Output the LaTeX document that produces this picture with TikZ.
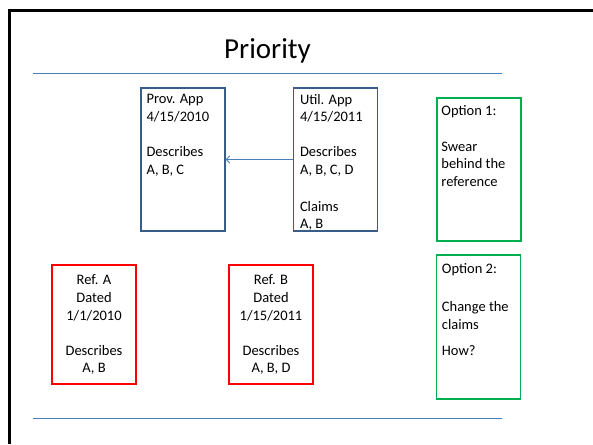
\documentclass[tikz,border=0pt]{standalone}
\usepackage{fontspec}
\setmainfont{Carlito}
\usetikzlibrary{arrows.meta}
\definecolor{appblue}{HTML}{385D8A}
\definecolor{ruleblue}{HTML}{4A7EBB}
\definecolor{optgreen}{HTML}{00B050}

\begin{document}
\begin{tikzpicture}[x=1pt, y=-1pt,
  frame/.style={black, line width=3pt},
  rule/.style={ruleblue, line width=1pt},
  card/.style={draw, line width=1.6pt, minimum width=84, minimum height=143, inner sep=0},
  app/.style={card, draw=appblue, line width=1.4pt},
  ref/.style={card, draw=red, minimum height=119},
  opt/.style={card, draw=optgreen},
  txt/.style={font=\fontsize{14.5}{17.6}\selectfont, inner sep=0, align=left, anchor=north west},
  ctxt/.style={txt, align=center, anchor=north},
  arr/.style={ruleblue, line width=0.9pt, -{Straight Barb[length=3.5pt,width=7pt]}},
]
\useasboundingbox (0,0) rectangle (593,444);

\draw[frame] (9,444) -- (9,10.5) -- (593,10.5);
\node (title) [font=\fontsize{29}{35}\selectfont, inner sep=0, anchor=base] at (267.5,58) {Priority};
\draw[rule] (33,73) -- (502,73);
\draw[rule] (33,418) -- (502,418);

\node (prov) [app] at (183,159.5) {};
\node (util) [app] at (335.5,159.5) {};
\node (opt1) [opt] at (479,169.5) {};
\node (refa) [ref] at (94,324.5) {};
\node (refb) [ref] at (271,324.5) {};
\node (opt2) [opt, minimum height=144] at (478.5,327) {};

\node (provtxt) [txt] at ([shift={(6,7)}]prov.north west)
  {Prov. App\\4/15/2010\\[17.6pt]Describes\\A, B, C};
\node (utiltxt) [txt] at ([shift={(7,6.5)}]util.north west)
  {Util. App\\4/15/2011\\[17.6pt]Describes\\A, B, C, D\\[19.2pt]Claims\\A, B};
\node (opt1txt) [txt] at ([shift={(5,8.5)}]opt1.north west)
  {Option 1:\\[17.6pt]Swear\\behind the\\reference};
\node (opt2txt) [txt] at ([shift={(6,9.5)}]opt2.north west)
  {Option 2:\\[20pt]Change the\\claims\\[9pt]How?};
\node (refatxt) [ctxt] at ([yshift=-10.5pt]refa.north)
  {Ref. A\\Dated\\1/1/2010\\[17.6pt]Describes\\A, B};
\node (refbtxt) [ctxt] at ([yshift=-10.5pt]refb.north)
  {Ref. B\\Dated\\1/15/2011\\[17.6pt]Describes\\A, B, D};

\draw[arr] (util.west) -- (prov.east);
\end{tikzpicture}
\end{document}
